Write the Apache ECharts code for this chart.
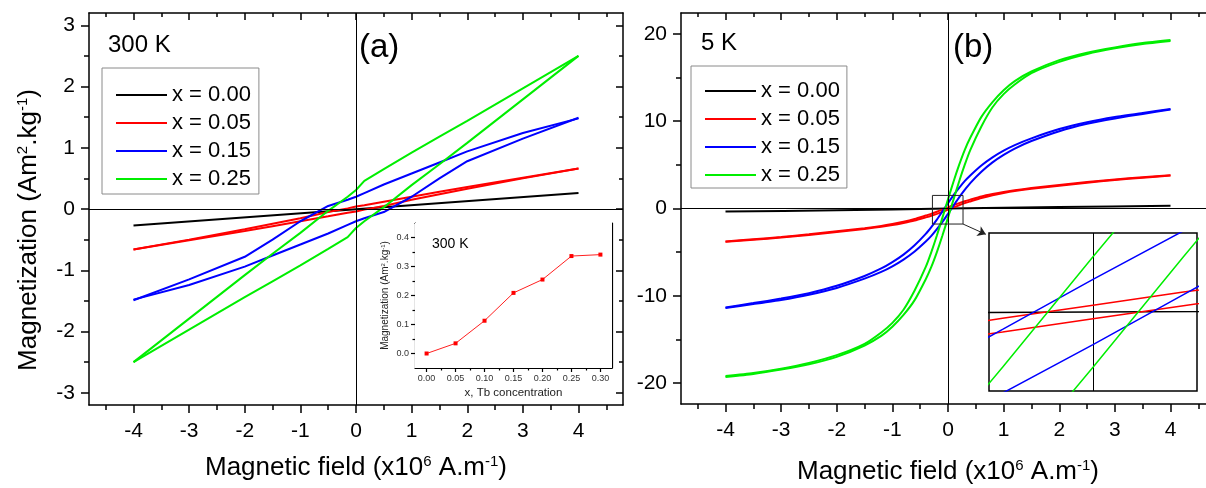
<!DOCTYPE html>
<html>
<head>
<meta charset="utf-8">
<script src="https://cdn.jsdelivr.net/npm/echarts@6/dist/echarts.min.js"></script>
<style>
  html, body { margin: 0; padding: 0; background: #fff; }
  #chart { width: 1206px; height: 488px; }
</style>
</head>
<body>
<div id="chart"></div>
<script>
// ---------- data ----------
const sampleNames = ['x = 0.00', 'x = 0.05', 'x = 0.15', 'x = 0.25']
const sampleColors = ['#000000', '#ff0000', '#0000ff', '#00ee00']

// (a) 300 K hysteresis loops, field in 1e6 A/m
const field300 = [-4, -3, -2, -1.5, -1, -0.5, -0.15, 0, 0.15, 0.5, 1, 1.5, 2, 3, 4]
const black300Field = [-4, 0, 4]
const black300 = [-0.27, -0.005, 0.26]
const red300Down = [-0.66, -0.5, -0.33, -0.24, -0.15, -0.05, 0.01, 0.04, 0.06, 0.12, 0.2, 0.28, 0.36, 0.51, 0.66]
const red300Up = [-0.66, -0.51, -0.36, -0.28, -0.2, -0.12, -0.06, -0.04, -0.01, 0.05, 0.15, 0.24, 0.33, 0.5, 0.66]
const blue300Down = [-1.49, -1.15, -0.78, -0.5, -0.2, 0.05, 0.15, 0.2, 0.26, 0.4, 0.58, 0.76, 0.94, 1.24, 1.48]
const blue300Up = [-1.48, -1.24, -0.94, -0.76, -0.58, -0.4, -0.26, -0.2, -0.15, -0.05, 0.2, 0.5, 0.78, 1.15, 1.49]
const green300Down = [-2.5, -1.79, -1.08, -0.73, -0.39, -0.03, 0.2, 0.31, 0.46, 0.65, 0.92, 1.18, 1.44, 1.97, 2.5]
const green300Up = [-2.5, -1.97, -1.44, -1.18, -0.92, -0.65, -0.46, -0.31, -0.2, 0.03, 0.39, 0.73, 1.08, 1.79, 2.5]

// (a) inset: magnetization at 300 K vs Tb concentration
const tbConc = [0, 0.05, 0.10, 0.15, 0.20, 0.25, 0.30]
const mag300 = [0.0, 0.035, 0.113, 0.209, 0.255, 0.336, 0.341]

// (b) 5 K hysteresis loops
const field5 = [-4, -3.5, -3, -2.5, -2, -1.5, -1.2, -1, -0.8, -0.6, -0.4, -0.3, -0.2, -0.1, 0, 0.1, 0.2, 0.3, 0.4, 0.6, 0.8, 1, 1.2, 1.5, 2, 2.5, 3, 3.5, 4]
const black5Field = [-4, -2, 0, 2, 4]
const black5 = [-0.35, -0.2, 0.0, 0.17, 0.32]
const red5Down = [-3.78, -3.53, -3.27, -2.96, -2.61, -2.26, -2.0, -1.78, -1.52, -1.2, -0.81, -0.61, -0.37, -0.12, 0.13, 0.38, 0.61, 0.83, 1.02, 1.38, 1.66, 1.9, 2.09, 2.34, 2.69, 3.03, 3.33, 3.58, 3.82]
const red5Up = [-3.82, -3.58, -3.33, -3.03, -2.69, -2.34, -2.09, -1.9, -1.66, -1.38, -1.02, -0.83, -0.61, -0.38, -0.13, 0.12, 0.37, 0.61, 0.81, 1.2, 1.52, 1.78, 2.0, 2.26, 2.61, 2.96, 3.27, 3.53, 3.78]
const blue5Down = [-11.34, -10.84, -10.32, -9.7, -8.86, -7.73, -6.87, -6.14, -5.28, -4.21, -2.91, -2.13, -1.27, -0.33, 0.62, 1.54, 2.37, 3.14, 3.79, 4.93, 5.86, 6.63, 7.27, 8.04, 9.1, 9.88, 10.48, 10.95, 11.4]
const blue5Up = [-11.4, -10.95, -10.48, -9.88, -9.1, -8.04, -7.27, -6.63, -5.86, -4.93, -3.79, -3.14, -2.37, -1.54, -0.62, 0.33, 1.27, 2.13, 2.91, 4.21, 5.28, 6.14, 6.87, 7.73, 8.86, 9.7, 10.32, 10.84, 11.34]
const green5Down = [-19.2, -18.85, -18.35, -17.7, -16.8, -15.5, -14.2, -13.1, -11.6, -9.4, -6.7, -5.0, -3.1, -1.05, 1.05, 3.1, 5.0, 6.7, 8.1, 10.5, 12.2, 13.55, 14.6, 15.7, 17.0, 17.85, 18.45, 18.95, 19.3]
const green5Up = [-19.3, -18.95, -18.45, -17.85, -17.0, -15.7, -14.6, -13.55, -12.2, -10.5, -8.1, -6.7, -5.0, -3.1, -1.05, 1.05, 3.1, 5.0, 6.7, 9.4, 11.6, 13.1, 14.2, 15.5, 16.8, 17.7, 18.35, 18.85, 19.2]

// tick values
const fieldTicks = [-4, -3, -2, -1, 0, 1, 2, 3, 4]
const fieldMinor = [-4.5, -3.5, -2.5, -1.5, -0.5, 0.5, 1.5, 2.5, 3.5, 4.5]
const mag300Ticks = [-3, -2, -1, 0, 1, 2, 3]
const mag300Minor = [-2.5, -1.5, -0.5, 0.5, 1.5, 2.5]
const mag5Ticks = [-20, -10, 0, 10, 20]
const mag5Minor = [-15, -5, 5, 15]
const concTicks = [0, 0.05, 0.10, 0.15, 0.20, 0.25, 0.30]
const concMinor = [0.025, 0.075, 0.125, 0.175, 0.225, 0.275]
const insetMagTicks = [0, 0.1, 0.2, 0.3, 0.4]
const insetMagMinor = [0.05, 0.15, 0.25, 0.35]

// zoom box drawn in (b) and where its arrow points
const zoomBoxX = [-0.28, 0.27]
const zoomBoxY = [-1.78, 1.5]
const arrowTip = [0.68, -2.96]

// ---------- chart ----------
const FONT = 'Liberation Sans, Arial, sans-serif'
const chart = echarts.init(document.getElementById('chart'))

function zip (xs, ys) {
  return xs.map((x, i) => [x, ys[i]])
}

// four axes per dimension: labelled major, minor, mirrored major, mirrored minor
function boxAxes (dim, grid, min, max, major, minor, cfg) {
  const pos = dim === 'x' ? ['bottom', 'top'] : ['left', 'right']
  const lineStyle = { color: '#000', width: cfg.lineWidth }
  const base = { type: 'value', gridIndex: grid, min: min, max: max, splitLine: { show: false }, silent: true }
  const hiddenLine = { show: false, onZero: false }
  return [
    Object.assign({}, base, {
      position: pos[0],
      name: cfg.name || '',
      nameLocation: 'middle',
      nameGap: cfg.nameGap || 0,
      nameTextStyle: cfg.nameStyle,
      axisLine: { show: true, onZero: false, lineStyle: lineStyle },
      axisTick: { show: true, customValues: major, length: cfg.tick, lineStyle: lineStyle },
      axisLabel: {
        show: true,
        customValues: major,
        margin: cfg.labelMargin,
        fontSize: cfg.labelSize,
        fontFamily: FONT,
        color: cfg.labelColor,
        formatter: cfg.formatter
      }
    }),
    Object.assign({}, base, {
      position: pos[0],
      axisLine: hiddenLine,
      axisTick: { show: true, customValues: minor, length: cfg.minorTick, lineStyle: lineStyle },
      axisLabel: { show: false }
    }),
    Object.assign({}, base, {
      position: pos[1],
      axisLine: { show: true, onZero: false, lineStyle: lineStyle },
      axisTick: { show: true, inside: true, customValues: major, length: cfg.tick - 1, lineStyle: lineStyle },
      axisLabel: { show: false }
    }),
    Object.assign({}, base, {
      position: pos[1],
      axisLine: hiddenLine,
      axisTick: { show: true, inside: true, customValues: minor, length: cfg.minorTick - 1, lineStyle: lineStyle },
      axisLabel: { show: false }
    })
  ]
}

const titleStyle = {
  fontSize: 26,
  lineHeight: 28,
  fontFamily: FONT,
  color: '#000',
  rich: {
    sup: { fontSize: 15, lineHeight: 5, fontFamily: FONT, color: '#000', verticalAlign: 'top' }
  }
}
const fieldTitle = 'Magnetic field (x10{sup|6} A.m{sup|-1})'
const mainCfg = { lineWidth: 1.5, tick: 8, minorTick: 5, labelMargin: 14, labelSize: 21, labelColor: '#000' }

const xAxes = [].concat(
  // 0-3: panel (a)
  boxAxes('x', 0, -4.8, 4.8, fieldTicks, fieldMinor, Object.assign({}, mainCfg, {
    labelMargin: 16, name: fieldTitle, nameGap: 49, nameStyle: titleStyle
  })),
  // 4-7: inset of (a)
  boxAxes('x', 1, -0.02, 0.32, concTicks, concMinor, {
    lineWidth: 1.2, tick: 4, minorTick: 2.5, labelMargin: 6, labelSize: 9, labelColor: '#333',
    formatter: v => v.toFixed(2),
    name: 'x, Tb concentration', nameGap: 19,
    nameStyle: { fontSize: 11.5, fontFamily: FONT, color: '#222' }
  }),
  // 8-11: panel (b)
  boxAxes('x', 2, -4.8, 4.8, fieldTicks, fieldMinor, Object.assign({}, mainCfg, {
    labelMargin: 16, name: fieldTitle, nameGap: 54, nameStyle: titleStyle
  })),
  // 12: inset of (b)
  [{ type: 'value', gridIndex: 3, min: -0.115, max: 0.115, show: false }]
)

const yAxes = [].concat(
  boxAxes('y', 0, -3.2, 3.2, mag300Ticks, mag300Minor, Object.assign({}, mainCfg, {
    name: 'Magnetization (Am{sup|2}.kg{sup|-1})', nameGap: 46,
    nameStyle: Object.assign({}, titleStyle, { padding: [0, 42, 0, 0] })
  })),
  boxAxes('y', 1, -0.05, 0.45, insetMagTicks, insetMagMinor, {
    lineWidth: 1.2, tick: 4, minorTick: 2.5, labelMargin: 6, labelSize: 9, labelColor: '#333',
    formatter: v => v.toFixed(1),
    name: 'Magnetization (Am{sup|2}.kg{sup|-1})', nameGap: 24,
    nameStyle: {
      fontSize: 10, lineHeight: 11, fontFamily: FONT, color: '#222',
      rich: { sup: { fontSize: 6, lineHeight: 3, fontFamily: FONT, color: '#222', verticalAlign: 'top' } }
    }
  }),
  boxAxes('y', 2, -22.4, 22.4, mag5Ticks, mag5Minor, mainCfg),
  [{ type: 'value', gridIndex: 3, min: -1.5, max: 1.5, show: false }]
)

const zeroLines = {
  silent: true,
  symbol: 'none',
  label: { show: false },
  lineStyle: { color: '#000', width: 1, type: 'solid' },
  data: [{ xAxis: 0 }, { yAxis: 0 }]
}

function loop (name, color, field, values, axis, width, extra) {
  return Object.assign({
    type: 'line',
    name: name,
    xAxisIndex: axis,
    yAxisIndex: axis,
    data: zip(field, values),
    symbol: 'none',
    lineStyle: { color: color, width: width },
    itemStyle: { color: color },
    z: 3
  }, extra || {})
}

const series = []

// panel (a)
series.push(loop(sampleNames[0], sampleColors[0], black300Field, black300, 0, 2, { markLine: zeroLines }))
series.push(loop(sampleNames[1], sampleColors[1], field300, red300Down, 0, 2))
series.push(loop(sampleNames[1], sampleColors[1], field300, red300Up, 0, 2))
series.push(loop(sampleNames[2], sampleColors[2], field300, blue300Down, 0, 2))
series.push(loop(sampleNames[2], sampleColors[2], field300, blue300Up, 0, 2))
series.push(loop(sampleNames[3], sampleColors[3], field300, green300Down, 0, 2))
series.push(loop(sampleNames[3], sampleColors[3], field300, green300Up, 0, 2))

// inset of (a)
series.push({
  type: 'line',
  name: 'inset300',
  xAxisIndex: 4,
  yAxisIndex: 4,
  data: zip(tbConc, mag300),
  symbol: 'rect',
  symbolSize: 4,
  lineStyle: { color: '#ff2020', width: 1 },
  itemStyle: { color: '#ff0000' },
  z: 5
})

// panel (b)
const panelB = [
  [0, black5Field, black5],
  [1, field5, red5Down], [1, field5, red5Up],
  [2, field5, blue5Down], [2, field5, blue5Up],
  [3, field5, green5Down], [3, field5, green5Up]
]
panelB.forEach((d, i) => {
  series.push(loop(sampleNames[d[0]], sampleColors[d[0]], d[1], d[2], 8, 2,
    i === 0 ? { markLine: zeroLines, smooth: 0.2 } : { smooth: 0.2 }))
})
// inset of (b): same loops, zoomed near the origin
panelB.forEach((d, i) => {
  series.push(loop(sampleNames[d[0]], sampleColors[d[0]], d[1], d[2], 12, 1.5,
    i === 0 ? { markLine: Object.assign({}, zeroLines, { data: [{ xAxis: 0 }] }), z: 6 } : { z: 6 }))
})

// zoom box in (b) plus its arrow
series.push({
  type: 'line',
  name: 'zoomBox',
  xAxisIndex: 8,
  yAxisIndex: 8,
  data: [
    [zoomBoxX[0], zoomBoxY[1]], [zoomBoxX[1], zoomBoxY[1]],
    [zoomBoxX[1], zoomBoxY[0]], [zoomBoxX[0], zoomBoxY[0]],
    [zoomBoxX[0], zoomBoxY[1]]
  ],
  symbol: 'none',
  lineStyle: { color: '#222', width: 1 },
  z: 7,
  markLine: {
    silent: true,
    symbol: ['none', 'arrow'],
    symbolSize: 8,
    label: { show: false },
    lineStyle: { color: '#222', width: 1, type: 'solid' },
    data: [[{ coord: [zoomBoxX[1], zoomBoxY[0]] }, { coord: arrowTip }]]
  }
})

function legendAt (left, top, padding) {
  return {
    data: sampleNames.map(n => ({ name: n, icon: 'rect' })),
    left: left,
    top: top,
    orient: 'vertical',
    selectedMode: false,
    itemWidth: 51,
    itemHeight: 2,
    itemGap: 6,
    padding: padding,
    backgroundColor: '#fff',
    borderColor: '#8a8a8a',
    borderWidth: 1,
    textStyle: { fontSize: 22, lineHeight: 22, fontFamily: FONT, color: '#000' }
  }
}

const textStyle = (size) => ({ fontSize: size, fontFamily: FONT, fill: '#000', verticalAlign: 'middle' })

chart.setOption({
  animation: false,
  backgroundColor: '#fff',
  grid: [
    { left: 89, top: 13, width: 534, height: 392, outerBoundsMode: 'none' },
    { left: 415, top: 223, width: 197, height: 145, show: true, backgroundColor: '#fff', borderWidth: 0, z: 4, outerBoundsMode: 'none' },
    { left: 681, top: 13, width: 534, height: 391, outerBoundsMode: 'none' },
    { left: 989, top: 233, width: 208, height: 158, show: true, backgroundColor: '#fff', borderColor: '#000', borderWidth: 1.5, z: 4, outerBoundsMode: 'none' }
  ],
  xAxis: xAxes,
  yAxis: yAxes,
  legend: [
    legendAt(102, 68, [16, 8, 4, 14]),
    legendAt(691, 66, [14, 7, 2, 14])
  ],
  graphic: [
    { type: 'text', x: 108, y: 45, style: Object.assign({ text: '300 K' }, textStyle(24)) },
    { type: 'text', x: 359, y: 48, style: Object.assign({ text: '(a)' }, textStyle(33)) },
    { type: 'text', x: 432, y: 244, z: 10, style: Object.assign({ text: '300 K' }, textStyle(14)) },
    { type: 'text', x: 701, y: 43, style: Object.assign({ text: '5 K' }, textStyle(24)) },
    { type: 'text', x: 953, y: 48, style: Object.assign({ text: '(b)' }, textStyle(33)) }
  ],
  series: series
})
</script>
</body>
</html>
